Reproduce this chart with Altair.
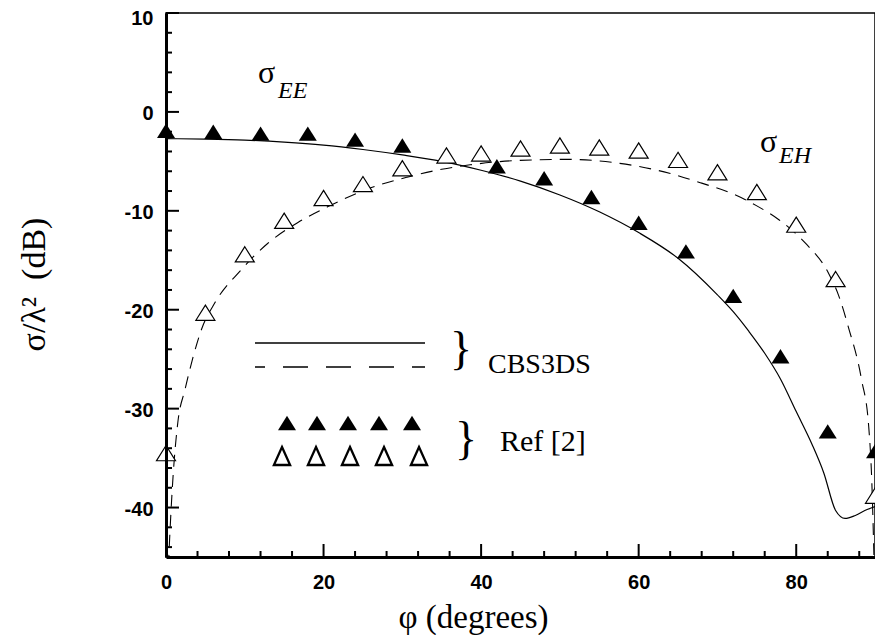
import altair as alt
import pandas as pd

# ---------------- data ----------------
# sigma_EE, Ref [2]  (filled triangles)
ee_ref_phi = [0, 6, 12, 18, 24, 30, 42, 48, 54, 60, 66, 72, 78, 84, 90]
ee_ref_db = [-1.9, -2.0, -2.2, -2.2, -2.8, -3.4, -5.5, -6.7, -8.6, -11.2,
             -14.1, -18.6, -24.7, -32.3, -34.3]

# sigma_EH, Ref [2]  (open triangles)
eh_ref_phi = [0, 5, 10, 15, 20, 25, 30, 35.6, 40, 45, 50, 55, 60, 65, 70,
              75, 80, 85, 90]
eh_ref_db = [-34.5, -20.3, -14.4, -11.0, -8.7, -7.3, -5.7, -4.4, -4.2, -3.7,
             -3.4, -3.6, -3.9, -4.85, -6.1, -8.1, -11.4, -16.9, -38.8]

# sigma_EE, CBS3DS (solid curve)
ee_cbs_phi = [0, 5, 10, 15, 20, 25, 30, 35, 40, 45, 50, 55, 60, 65, 70, 72,
              74, 76, 78, 80, 82, 83.5, 85, 86.2, 87.5, 89, 90]
ee_cbs_db = [-2.7, -2.75, -2.85, -3.05, -3.35, -3.8, -4.35, -5.0, -5.9, -7.0,
             -8.4, -10.1, -12.2, -14.8, -18.5, -20.2, -22.2, -24.4, -27.0,
             -30.3, -33.6, -36.5, -40.3, -41.1, -40.8, -40.2, -39.9]

# sigma_EH, CBS3DS (dashed curve)
eh_cbs_phi = [0.3, 0.5, 0.9, 1.5, 2.4, 3.4, 4.5, 6.2, 9.5, 12.9, 16.7, 20.5,
              25.9, 30.6, 35, 38.6, 44.9, 51.2, 57.6, 63.9, 68, 72, 75, 77.8,
              81.2, 84.1, 85.4, 86.6, 88.3, 89.2, 89.6, 89.9]
eh_cbs_db = [-46, -42.5, -36.8, -31.4, -28.1, -24.9, -22.0, -19.3, -16.0,
             -13.3, -11.2, -9.6, -7.7, -6.6, -5.8, -5.35, -4.9, -4.8, -5.2,
             -6.2, -7.2, -8.3, -9.5, -10.9, -13.3, -16.3, -18.6, -21.7,
             -27.1, -31.8, -37.5, -46]

# tick values
x_major = [0, 20, 40, 60, 80]
x_minor = [4, 8, 12, 16, 24, 28, 32, 36, 44, 48, 52, 56, 64, 68, 72, 76, 84, 88]
y_major = [-40, -30, -20, -10, 0, 10]
y_minor = [-44, -42, -38, -36, -34, -32, -28, -26, -24, -22, -18, -16, -14,
           -12, -8, -6, -4, -2, 2, 4, 6, 8]

# ---------------- layout / style ----------------
W, H = 709, 544
X0, X1, Y0, Y1 = 0, 90, -45, 10
SERIF = "Liberation Serif"
SANS = "Liberation Sans"
HYPHEN = "replace(datum.label, '\u2212', '-')"

xs = alt.Scale(domain=[X0, X1], nice=False, zero=False)
ys = alt.Scale(domain=[Y0, Y1], nice=False, zero=False)

xaxis = alt.Axis(values=x_major, title="φ (degrees)", grid=False, ticks=False,
                 tickSize=0, labelFont=SANS, labelFontWeight="bold",
                 labelFontSize=20, labelColor="black", labelPadding=15,
                 labelFlush=False, labelExpr=HYPHEN,
                 domainColor="black", domainWidth=3, titleFont=SERIF,
                 titleFontSize=33, titleFontWeight="normal", titleColor="black",
                 titleX=307, titleY=70, titleBaseline="alphabetic",
                 titleAlign="center", zindex=1)
yaxis = alt.Axis(values=y_major, title="σ/λ²\u2002(dB)", grid=False, ticks=False,
                 tickSize=0, labelFont=SANS, labelFontWeight="bold",
                 labelFontSize=20, labelColor="black", labelPadding=13,
                 labelOffset={"condition": {"test": f"datum.value == {Y1}",
                                            "value": 5}, "value": 2},
                 labelFlush=False, labelExpr=HYPHEN,
                 domainColor="black", domainWidth=3, titleFont=SERIF,
                 titleFontSize=34, titleFontWeight="normal", titleColor="black",
                 titleAngle=270, titleX=-122, titleY=271,
                 titleBaseline="alphabetic", titleAlign="center", zindex=1)

X = alt.X("x:Q", scale=xs, axis=xaxis)
Y = alt.Y("y:Q", scale=ys, axis=yaxis)

TRI = "M0,-0.8L1,0.8L-1,0.8Z"
TRI_LEG = "M0,-1L0.9,1L-0.9,1Z"

ee_cbs = pd.DataFrame({"x": ee_cbs_phi, "y": ee_cbs_db})
eh_cbs = pd.DataFrame({"x": eh_cbs_phi, "y": eh_cbs_db})
ee_ref = pd.DataFrame({"x": ee_ref_phi, "y": ee_ref_db})
eh_ref = pd.DataFrame({"x": eh_ref_phi, "y": eh_ref_db})

layers = []
layers.append(alt.Chart(ee_cbs).mark_line(color="black", strokeWidth=1.2,
              clip=True, interpolate="monotone").encode(x=X, y=Y))
layers.append(alt.Chart(eh_cbs).mark_line(color="black", strokeWidth=1.1,
              strokeDash=[12, 8], clip=True, interpolate="monotone").encode(x=X, y=Y))
layers.append(alt.Chart(eh_ref).mark_point(shape=TRI, size=361, filled=False,
              fill="white", fillOpacity=1, stroke="black", strokeWidth=1.2,
              opacity=1).encode(x=X, y=Y))
layers.append(alt.Chart(ee_ref).mark_point(shape=TRI, size=324, filled=True,
              color="black", opacity=1).encode(x=X, y=Y))

# inward ticks (lengths in pixels converted through the scale spans)
def xticks(vals, length_px):
    y2 = Y0 + length_px * (Y1 - Y0) / H
    df = pd.DataFrame({"x": vals, "y": [Y0] * len(vals), "y2": [y2] * len(vals)})
    return alt.Chart(df).mark_rule(color="black", strokeWidth=2).encode(
        x=X, y=Y, y2="y2:Q")

def yticks(vals, length_px):
    x2 = X0 + length_px * (X1 - X0) / W
    df = pd.DataFrame({"y": vals, "x": [X0] * len(vals), "x2": [x2] * len(vals)})
    return alt.Chart(df).mark_rule(color="black", strokeWidth=2).encode(
        y=Y, x=X, x2="x2:Q")

layers += [xticks(x_major, 13), xticks(x_minor, 6),
           yticks(y_major, 13), yticks(y_minor, 6)]

one = alt.Data(values=[{"k": 0}])

# legend lines
layers.append(alt.Chart(one).mark_rule(color="black", strokeWidth=1.3).encode(
    x=alt.value(89), x2=alt.value(259), y=alt.value(330)))
layers.append(alt.Chart(one).mark_rule(color="black", strokeWidth=1.3,
              strokeDash=[25, 18], strokeDashOffset=15).encode(
    x=alt.value(89), x2=alt.value(259), y=alt.value(354)))

# legend triangles
leg_filled_px = [121, 151, 182, 213, 246]
leg_open_px = [116, 150, 184, 218, 253]
for px in leg_filled_px:
    layers.append(alt.Chart(one).mark_point(shape=TRI, size=324, filled=True,
                  color="black", opacity=1).encode(x=alt.value(px), y=alt.value(410)))
for px in leg_open_px:
    layers.append(alt.Chart(one).mark_point(shape=TRI_LEG, size=324, filled=False,
                  fill="white", fillOpacity=1, stroke="black", strokeWidth=2.3,
                  opacity=1).encode(x=alt.value(px), y=alt.value(443)))

def label(txt, px, py, size, style="normal", align="left"):
    return alt.Chart(one).mark_text(text=txt, font=SERIF, fontSize=size,
                                    fontStyle=style, align=align,
                                    baseline="alphabetic", color="black").encode(
        x=alt.value(px), y=alt.value(py))

layers.append(label("}", 295, 351, 46, align="center"))
layers.append(label("CBS3DS", 322, 360, 28))
layers.append(label("}", 300, 441, 46, align="center"))
layers.append(label("Ref [2]", 334, 438, 30))

layers.append(label("σ", 92, 70, 32))
layers.append(label("EE", 112, 85, 24, style="italic"))
layers.append(label("σ", 594, 139, 32))
layers.append(label("EH", 613, 150, 24, style="italic"))

chart = alt.layer(*layers).properties(
    width=W, height=H,
    autosize=alt.AutoSizeParams(type="none"),
    padding={"left": 158, "top": 5, "right": 0, "bottom": 78},
).configure_view(stroke="black", strokeWidth=1.5)

chart.save("out.html", embed_options={"renderer": "svg", "actions": False})
